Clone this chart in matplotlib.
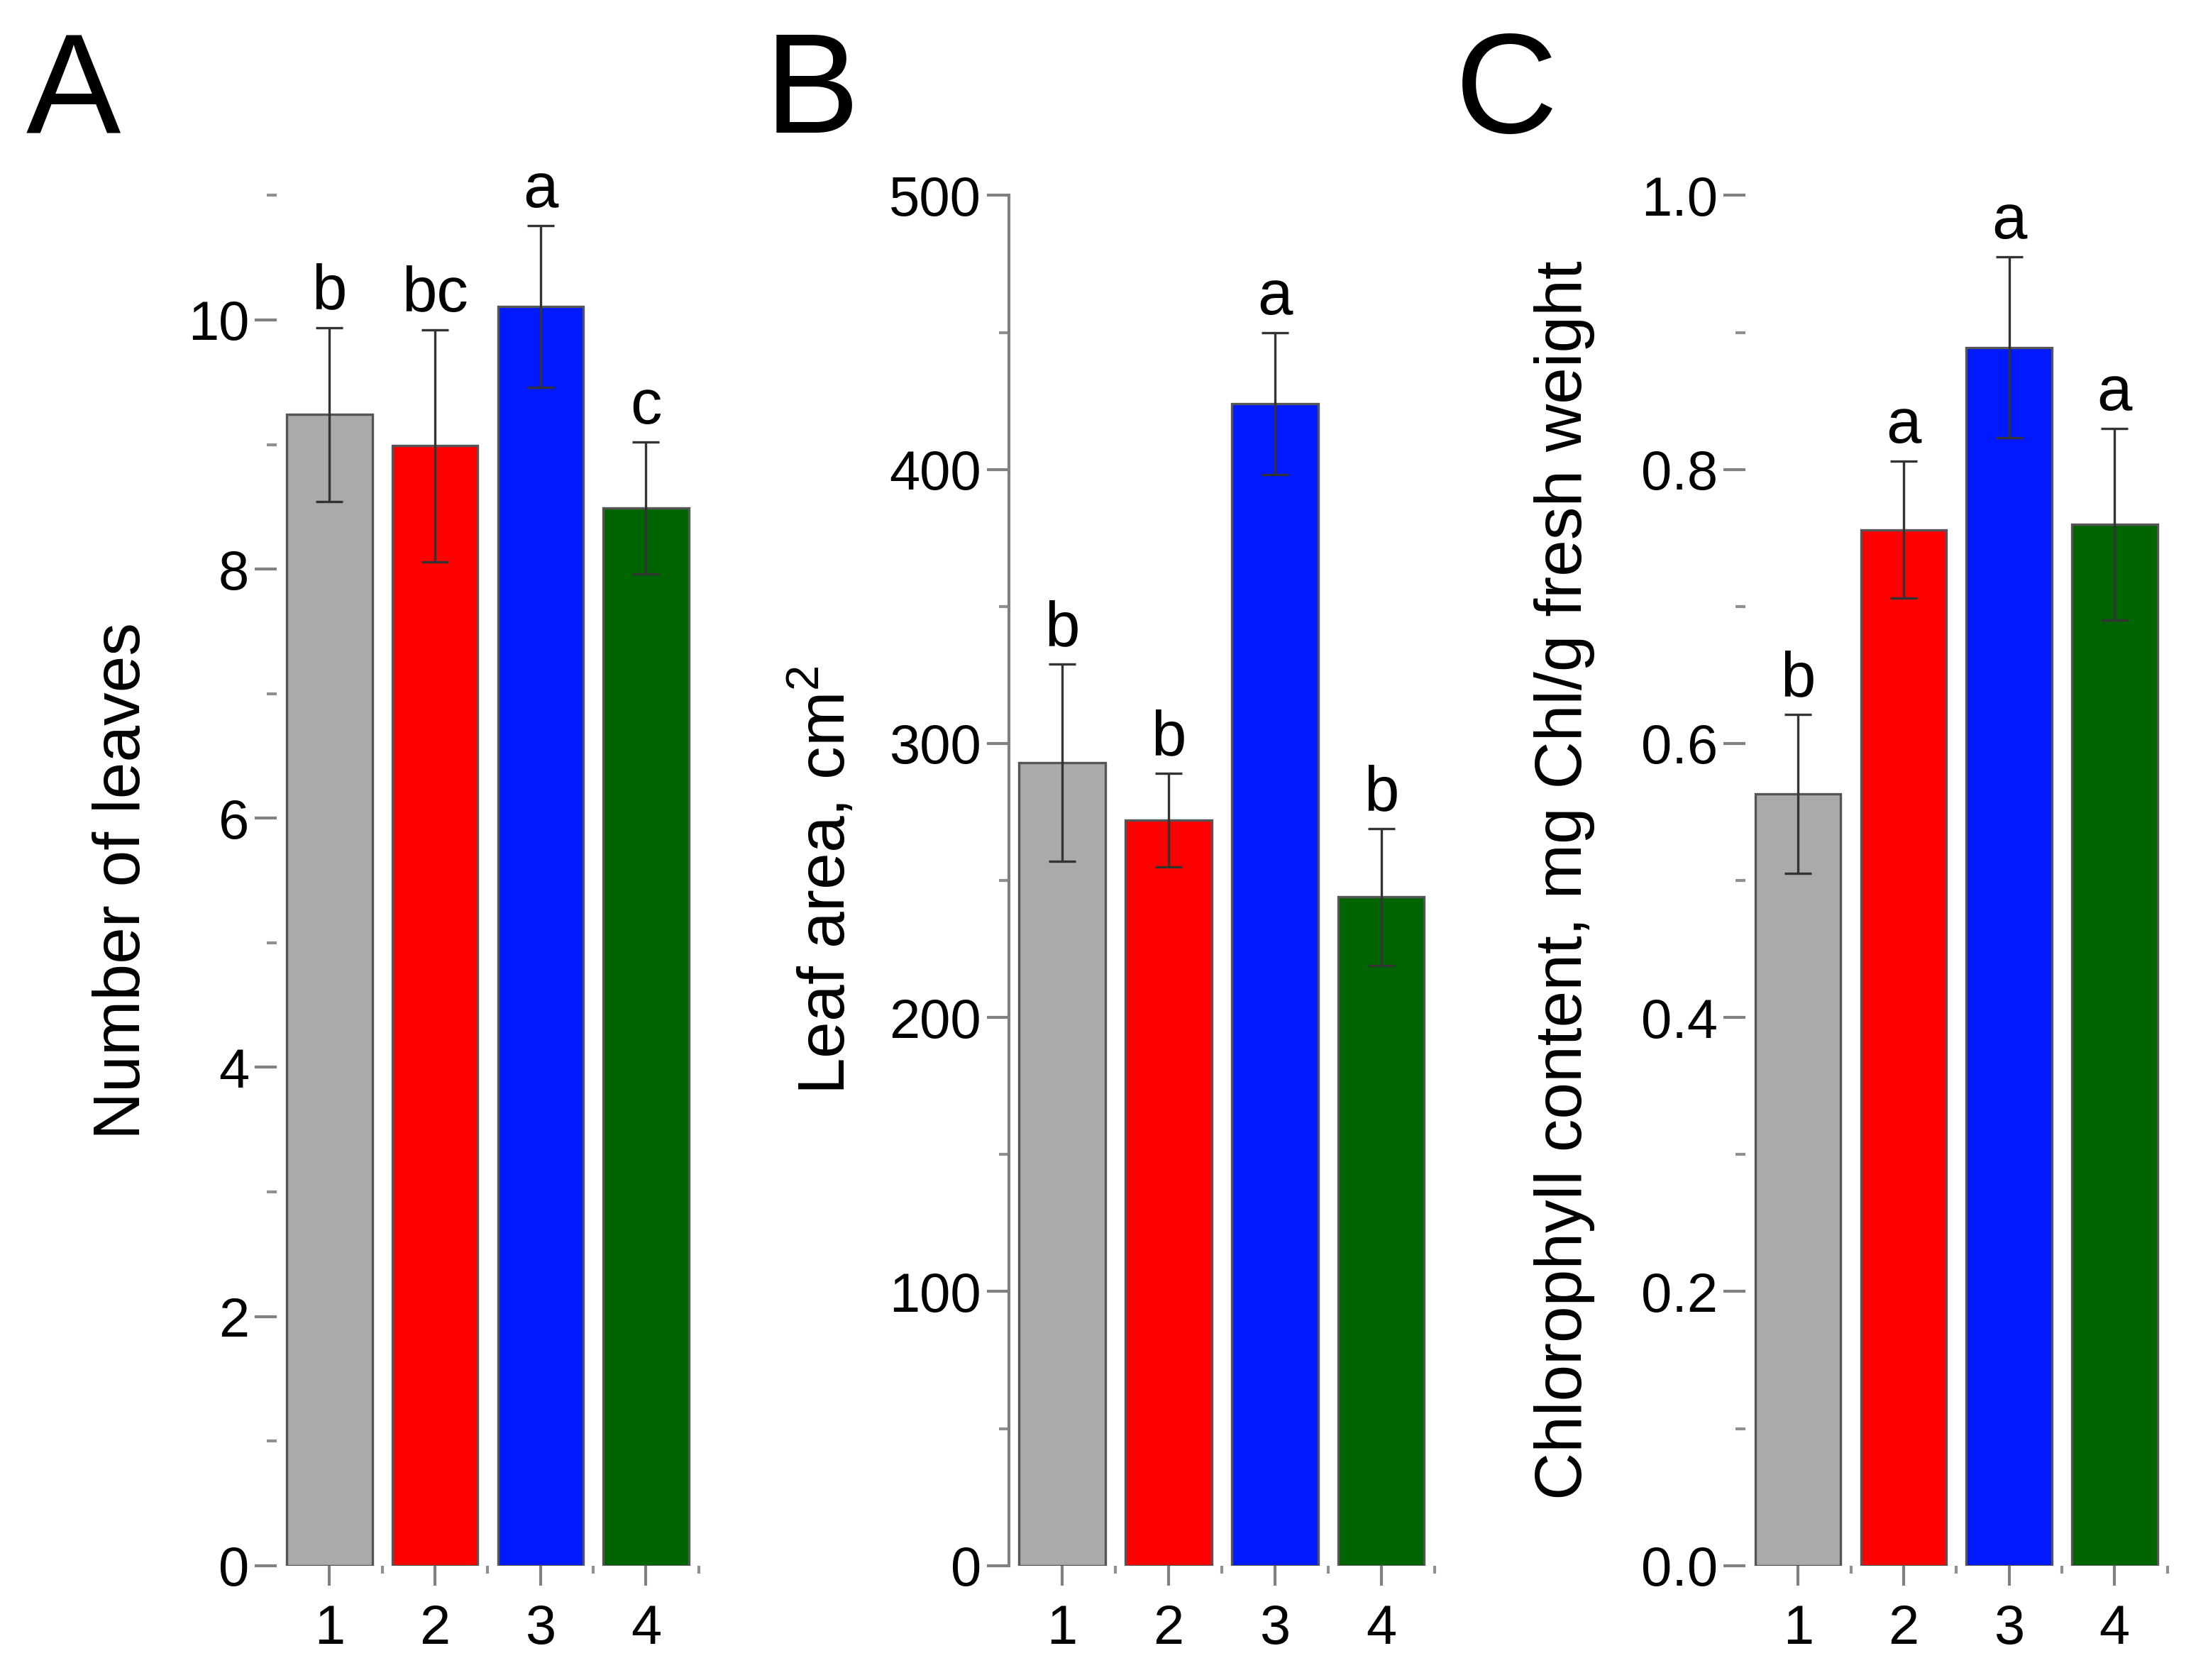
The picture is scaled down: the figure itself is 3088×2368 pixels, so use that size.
import numpy as np
import matplotlib
matplotlib.use('Agg')
import matplotlib.pyplot as plt
from matplotlib.ticker import MultipleLocator, FixedLocator, FormatStrFormatter

plt.rcParams['font.family'] = ['Liberation Sans', 'DejaVu Sans']
plt.rcParams['mathtext.fontset'] = 'custom'
plt.rcParams['mathtext.rm'] = 'Liberation Sans'

# data
groups = [1, 2, 3, 4]
colors = ['#aaaaaa', '#ff0000', '#0019ff', '#006400']

leaves = [9.24, 8.99, 10.11, 8.49]
leaves_err = [0.70, 0.93, 0.65, 0.53]
leaves_letters = ['b', 'bc', 'a', 'c']

area = [293, 272, 424, 244]
area_err = [36, 17, 26, 25]
area_letters = ['b', 'b', 'a', 'b']

chl = [0.563, 0.756, 0.889, 0.760]
chl_err = [0.058, 0.050, 0.066, 0.070]
chl_letters = ['b', 'a', 'a', 'a']

fig = plt.figure(figsize=(15.44, 11.84), dpi=200)

bottom = 0.0681
height = 0.8837 - 0.0681
panels = [
    # left, width, values, errors, letters, ylim, major, minor, ylabel, label x, panel letter x, spine
    (0.1263, 0.1926, leaves, leaves_err, leaves_letters, 11, 2, 1, 'Number of leaves', 0.056, 0.012, False),
    (0.4605, 0.1942, area, area_err, area_letters, 500, 100, 50, 'Leaf area, cm$^2$', 0.376, 0.349, True),
    (0.7966, 0.1926, chl, chl_err, chl_letters, 1.0, 0.2, 0.1, 'Chlorophyll content, mg Chl/g fresh weight', 0.714, 0.664, False),
]

for (left, width, vals, errs, letters, ytop, major, minor, ylabel, lx, px, spine), name in zip(panels, 'ABC'):
    ax = fig.add_axes([left, bottom, width, height])
    ax.bar(groups, vals, width=0.81, color=colors, edgecolor='#555555', linewidth=1.2, zorder=2)
    ax.errorbar(groups, vals, yerr=errs, fmt='none', ecolor='#333333', elinewidth=1.2,
                capsize=7, capthick=1.2, zorder=3)
    for g, v, e, t in zip(groups, vals, errs, letters):
        ax.annotate(t, (g, v + e), xytext=(0, 2.5), textcoords='offset points',
                    ha='center', va='bottom', fontsize=32)

    ax.set_xlim(0.5, 4.5)
    ax.set_ylim(0, ytop)
    ax.set_xticks(groups)
    ax.xaxis.set_minor_locator(FixedLocator([1.5, 2.5, 3.5, 4.5]))
    ax.yaxis.set_major_locator(MultipleLocator(major))
    ax.yaxis.set_minor_locator(FixedLocator(np.arange(minor, ytop + minor / 2, major)))
    if name == 'C':
        ax.yaxis.set_major_formatter(FormatStrFormatter('%.1f'))

    for s in ['top', 'right', 'bottom', 'left']:
        ax.spines[s].set_visible(False)
    if spine:
        ax.spines['left'].set_visible(True)
        ax.spines['left'].set_color('#808080')
        ax.spines['left'].set_linewidth(1.5)

    ax.tick_params(axis='both', which='major', color='#808080', width=1.5, labelsize=28)
    ax.tick_params(axis='y', which='major', length=11, pad=3)
    ax.tick_params(axis='y', which='minor', length=5, width=1.5, color='#909090')
    ax.tick_params(axis='x', which='major', length=10, pad=9)
    ax.tick_params(axis='x', which='minor', length=4, width=1.5, color='#909090')
    ax.set_facecolor('none')

    fig.text(lx, bottom + height / 2, ylabel, rotation=90, ha='center', va='center', fontsize=33.5)
    fig.text(px, 0.921, name, ha='left', va='baseline', fontsize=72)

fig.savefig('out.png', dpi=200, facecolor='white')
